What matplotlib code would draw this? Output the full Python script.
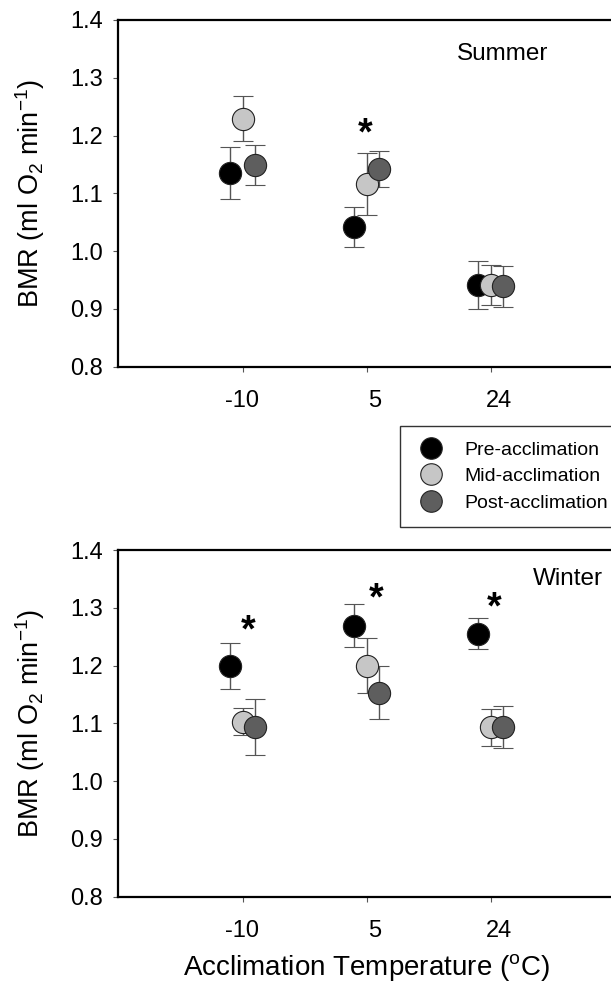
import matplotlib
matplotlib.use("Agg")
import matplotlib.pyplot as plt
from matplotlib.lines import Line2D
from matplotlib.transforms import ScaledTranslation, offset_copy

plt.rcParams['font.family'] = ['Liberation Sans', 'DejaVu Sans']
plt.rcParams['mathtext.fontset'] = 'custom'
plt.rcParams['mathtext.rm'] = 'Liberation Sans'
plt.rcParams['mathtext.it'] = 'Liberation Sans:italic'
plt.rcParams['mathtext.bf'] = 'Liberation Sans:bold'

# acclimation temperatures (categories)
temps = ['-10', '5', '24']
groups = ['Pre-acclimation', 'Mid-acclimation', 'Post-acclimation']

# summer BMR means and SE
summer_pre = [1.136, 1.042, 0.941]
summer_pre_se = [0.045, 0.034, 0.042]
summer_mid = [1.229, 1.116, 0.941]
summer_mid_se = [0.039, 0.053, 0.035]
summer_post = [1.149, 1.142, 0.939]
summer_post_se = [0.034, 0.031, 0.035]

# winter BMR means and SE
winter_pre = [1.199, 1.269, 1.255]
winter_pre_se = [0.040, 0.037, 0.027]
winter_mid = [1.103, 1.200, 1.093]
winter_mid_se = [0.023, 0.047, 0.032]
winter_post = [1.094, 1.153, 1.094]
winter_post_se = [0.048, 0.046, 0.036]

# significance stars (x in category units, y in BMR units)
summer_star_x = [1.985]
summer_star_y = [1.222]
winter_star_x = [1.045, 2.075, 3.03]
winter_star_y = [1.279, 1.335, 1.319]

colors = ['#000000', '#c6c6c6', '#5e5e5e']
offsets = [-0.1, 0.0, 0.1]

W, H = 611, 984
fig = plt.figure(figsize=(W / 100, H / 100), dpi=100)

ax_w = 4 * 124.2 / W
ax_h = 346.7 / H
ax_top = fig.add_axes([118.3 / W, 1 - 366.7 / H, ax_w, ax_h])
ax_bot = fig.add_axes([118.3 / W, 1 - 896.7 / H, ax_w, ax_h])


def draw_panel(ax, series, ses, star_x, star_y, season, season_xy):
    pos = [1, 2, 3]
    for vals, se, col, off in zip(series, ses, colors, offsets):
        ax.errorbar([p + off for p in pos], vals, yerr=se, fmt='o',
                    color=col, mfc=col, mec='#222222', mew=0.8, ms=16,
                    ecolor='#555555', elinewidth=1, capsize=7.5, capthick=1)
    fs = 27
    star_tr = offset_copy(ax.transData, fig=fig, x=0, y=-0.58 * fs, units='points')
    for sx, sy in zip(star_x, star_y):
        ax.text(sx, sy, '*', fontsize=fs, fontweight='bold', ha='center',
                va='baseline', transform=star_tr)
    ax.text(season_xy[0], season_xy[1], season, fontsize=17.5, ha='center',
            va='baseline', transform=ax.transAxes)

    ax.set_xlim(0, 4)
    ax.set_ylim(0.8, 1.4)
    ax.set_xticks(pos)
    ax.set_xticklabels(temps)
    yt = [0.8, 0.9, 1.0, 1.1, 1.2, 1.3, 1.4]
    ax.set_yticks(yt)
    ax.set_yticklabels(['%.1f' % v for v in yt])
    ax.spines['right'].set_visible(False)
    for s in ['left', 'bottom', 'top']:
        ax.spines[s].set_linewidth(1.6)
    ax.tick_params(axis='both', direction='out', length=3.6, width=0.8,
                   color='#555555', labelsize=17)
    ax.tick_params(axis='y', pad=7.5)
    ax.tick_params(axis='x', pad=13.5)
    ax.set_ylabel('BMR (ml O$_2$ min$^{-1}$)', fontsize=19.5)
    ax.yaxis.set_label_coords(-0.143, 0.5)
    for lab, dx in zip(ax.get_xticklabels(), [0, 6, 6]):
        lab.set_transform(lab.get_transform() +
                          ScaledTranslation(dx / 72, 0, fig.dpi_scale_trans))


draw_panel(ax_top,
           [summer_pre, summer_mid, summer_post],
           [summer_pre_se, summer_mid_se, summer_post_se],
           summer_star_x, summer_star_y, 'Summer', (0.774, 0.885))
draw_panel(ax_bot,
           [winter_pre, winter_mid, winter_post],
           [winter_pre_se, winter_mid_se, winter_post_se],
           winter_star_x, winter_star_y, 'Winter', (0.905, 0.899))

ax_bot.set_xlabel('Acclimation Temperature ($^{\\mathrm{o}}$C)', fontsize=20)
ax_bot.xaxis.set_label_coords(0.5, -0.16)

handles = [Line2D([], [], ls='none', marker='o', ms=15.5, mfc=c,
                  mec='#222222', mew=0.8) for c in colors]
leg = fig.legend(handles, groups, loc='upper left',
                 bbox_to_anchor=(400 / W, 1 - 425.7 / H),
                 bbox_transform=fig.transFigure, borderaxespad=0,
                 fontsize=14, frameon=True, fancybox=False, framealpha=1,
                 edgecolor='#333333', borderpad=0.8, handlelength=1.58,
                 handletextpad=0.92, labelspacing=0.45)
leg.get_frame().set_linewidth(1)

fig.savefig('out.png', dpi=100)
